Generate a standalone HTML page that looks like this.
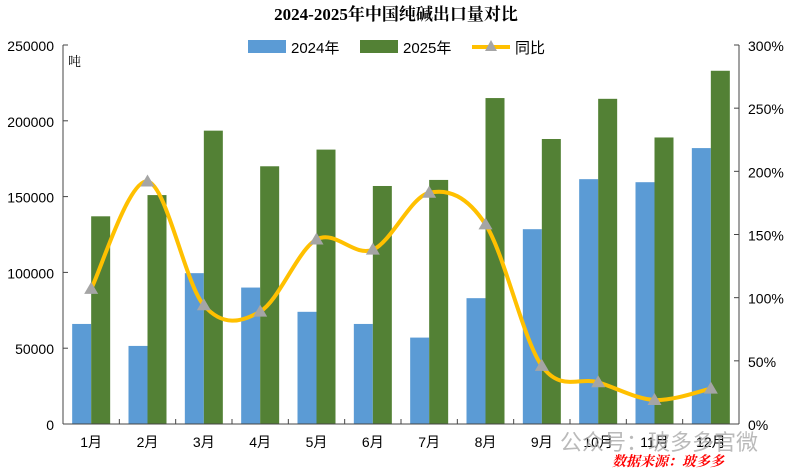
<!DOCTYPE html>
<html><head><meta charset="utf-8"><style>
body{margin:0;background:#fff;width:793px;height:475px;overflow:hidden}
svg{display:block;font-family:"Liberation Sans","Noto Sans CJK SC",sans-serif}
</style></head><body>
<svg id="s" width="793" height="475" viewBox="0 0 793 475">
<text x="396" y="20" text-anchor="middle" font-size="17" font-weight="bold" font-family="Liberation Serif,'Noto Serif CJK SC',serif">2024-2025年中国纯碱出口量对比</text>
<rect x="248" y="40" width="38" height="13" fill="#5B9BD5"/><text x="291" y="53" font-size="15">2024年</text>
<rect x="360" y="40" width="38" height="13" fill="#538135"/><text x="403" y="53" font-size="15">2025年</text>
<line x1="472" y1="47" x2="510" y2="47" stroke="#FFC000" stroke-width="4"/><polygon points="491,40 497,51 485,51" fill="#A5A5A5"/><text x="515" y="53" font-size="15">同比</text>
<text x="68" y="66" font-size="13" font-family="'Noto Serif CJK SC',serif">吨</text>
<g id="g"></g>
<text x="612" y="466" font-size="14" fill="#f00" font-style="italic" font-weight="bold" font-family="'Noto Serif CJK SC',serif">数据来源：玻多多</text>
</svg>
<script>
var g=document.getElementById('g'),h='';
var L=63,R=739,T=45,B=424,W=(R-L)/12;
var a=[66000,51500,99500,90000,74000,66000,57000,83000,128500,161500,159500,182000];
var b=[137000,151000,193500,170000,181000,157000,161000,215000,188000,214500,189000,233000];
var p=[107,192,94,89,146,138,183,158,46,33,19,28];
function y(v){return B-v/250000*(B-T)}
for(var i=0;i<=5;i++){var yy=B-i*(B-T)/5;h+='<text x="54" y="'+(yy+6)+'" font-size="14" text-anchor="end">'+(i?i*50000:0)+'</text><line x1="63" y1="'+yy+'" x2="68" y2="'+yy+'" stroke="#444"/>';}
for(var i=0;i<=6;i++){var yy=B-i*(B-T)/6;h+='<text x="748" y="'+(yy+6)+'" font-size="14">'+i*50+'%</text><line x1="734" y1="'+yy+'" x2="739" y2="'+yy+'" stroke="#444"/>';}
var pts=[];
for(var i=0;i<12;i++){var x0=L+i*W,c=x0+W/2;
h+='<rect x="'+(c-19)+'" y="'+y(a[i])+'" width="19" height="'+(B-y(a[i]))+'" fill="#5B9BD5"/>';
h+='<rect x="'+c+'" y="'+y(b[i])+'" width="19" height="'+(B-y(b[i]))+'" fill="#538135"/>';
h+='<line x1="'+(x0+W)+'" y1="'+B+'" x2="'+(x0+W)+'" y2="'+(B-5)+'" stroke="#444"/>';
h+='<text x="'+c+'" y="447" font-size="14" text-anchor="middle">'+(i+1)+'月</text>';
pts.push([c,B-p[i]/300*(B-T)]);}
h+='<line x1="63" y1="45" x2="63" y2="424" stroke="#444"/><line x1="739" y1="45" x2="739" y2="424" stroke="#444"/><line x1="63" y1="424" x2="739" y2="424" stroke="#444"/>';
var d='M'+pts[0];
for(var i=0;i<11;i++){var p0=pts[i-1]||pts[i],p1=pts[i],p2=pts[i+1],p3=pts[i+2]||p2;
d+=' C'+(p1[0]+(p2[0]-p0[0])/6)+','+(p1[1]+(p2[1]-p0[1])/6)+' '+(p2[0]-(p3[0]-p1[0])/6)+','+(p2[1]-(p3[1]-p1[1])/6)+' '+p2;}
h+='<path d="'+d+'" fill="none" stroke="#FFC000" stroke-width="4"/>';
pts.forEach(function(q){h+='<polygon points="'+q[0]+','+(q[1]-7)+' '+(q[0]+7)+','+(q[1]+5)+' '+(q[0]-7)+','+(q[1]+5)+'" fill="#A5A5A5"/>'});
h+='<text x="560" y="450" font-size="22" fill="#aaa" opacity="0.8">公众号：玻多多官微</text>';
g.innerHTML=h;
</script>
</body></html>
